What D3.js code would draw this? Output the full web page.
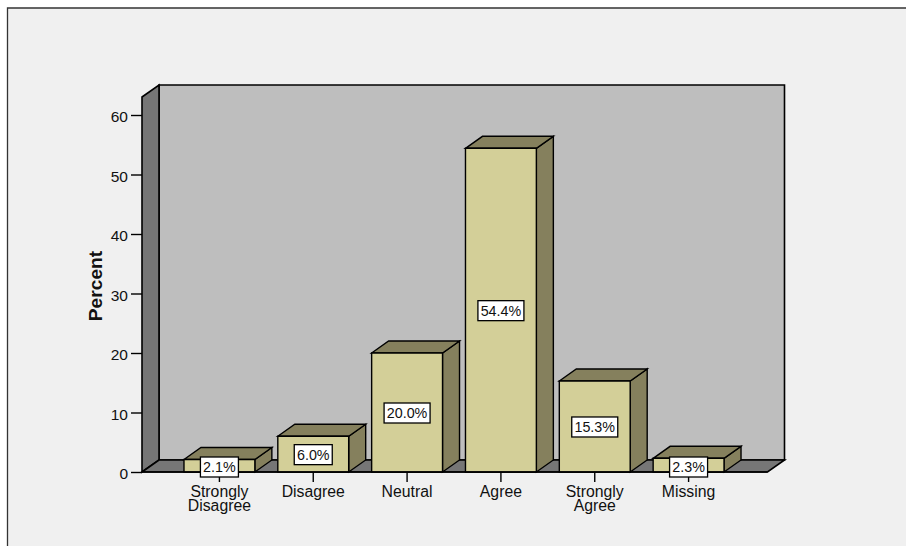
<!DOCTYPE html>
<html><head><meta charset="utf-8">
<script src="https://cdn.jsdelivr.net/npm/d3@7"></script>
<style>html,body{margin:0;padding:0;background:#fff}svg{display:block}text{font-family:"Liberation Sans",Arial,sans-serif;fill:#111}</style>
</head><body><svg id="c" width="906" height="546"></svg>
<script>
const categories=[["Strongly","Disagree"],["Disagree"],["Neutral"],["Agree"],["Strongly","Agree"],["Missing"]];
const values=[2.1,6.0,20.0,54.4,15.3,2.3];
const labels=["2.1%","6.0%","20.0%","54.4%","15.3%","2.3%"];
const yTicks=[0,10,20,30,40,50,60];
const svg=d3.select("#c");
const y=d3.scaleLinear().domain([0,60]).range([472,115]);
const x=d3.scaleBand().domain(d3.range(categories.length)).range([173,735]).paddingInner(23/94).paddingOuter(11/94);
const dx=17,dy=12,L=142,R=767.5,T=97;
const poly=(pts,fill,sw=1.6)=>svg.append("path").attr("d","M"+pts.map(p=>p.join(",")).join("L")+"Z").attr("fill",fill).attr("stroke","#000").attr("stroke-width",sw).attr("stroke-linejoin","miter");
svg.append("rect").attr("x",7.5).attr("y",8).attr("width",898.5).attr("height",538).attr("fill","#f0f0f0");
svg.append("path").attr("d","M7.5,546V8H906").attr("fill","none").attr("stroke","#333").attr("stroke-width",1.3);
poly([[L+dx,T-dy],[R+dx,T-dy],[R+dx,472-dy],[L+dx,472-dy]],"#bebebe");
poly([[L,T],[L+dx,T-dy],[L+dx,472-dy],[L,472]],"#767676");
poly([[L,472],[L+dx,472-dy],[R+dx,472-dy],[R,472]],"#767676");
const yAxis=svg.append("g").attr("transform",`translate(${L},0)`).call(d3.axisLeft(y).tickValues(yTicks).tickSize(11).tickPadding(3));
yAxis.select(".domain").remove();
yAxis.selectAll("line").attr("stroke","#000").attr("stroke-width",1.4);
yAxis.selectAll("text").attr("font-size",15.5).attr("dy","0.42em").attr("fill","#111").style("font-family",'"Liberation Sans",Arial,sans-serif');
values.forEach((v,i)=>{
 const x0=x(i),x1=x0+x.bandwidth(),yt=y(v),yb=y(0);
 poly([[x1,yt],[x1+dx,yt-dy],[x1+dx,yb-dy],[x1,yb]],"#85805d",1.4);
 poly([[x0,yt],[x0+dx,yt-dy],[x1+dx,yt-dy],[x1,yt]],"#85805d",1.4);
 poly([[x0,yt],[x1,yt],[x1,yb],[x0,yb]],"#d3cf98",1.4);
});
svg.append("line").attr("x1",L).attr("x2",R).attr("y1",472).attr("y2",472).attr("stroke","#000").attr("stroke-width",1.6);
const xc=i=>x(i)+x.bandwidth()/2;
categories.forEach((c,i)=>{
 svg.append("line").attr("x1",xc(i)).attr("x2",xc(i)).attr("y1",472).attr("y2",482).attr("stroke","#000").attr("stroke-width",1.4);
 const t=svg.append("text").attr("text-anchor","middle").attr("font-size",15.8);
 c.forEach((s,j)=>t.append("tspan").attr("x",xc(i)).attr("y",497+j*14).text(s));
});
values.forEach((v,i)=>{
 const cy=(y(v)+y(0))/2+0.5, yc=v<5?467:cy, w=labels[i].length>4?46:38;
 svg.append("rect").attr("x",xc(i)-w/2).attr("y",yc-10).attr("width",w).attr("height",20).attr("fill","#fff").attr("stroke","#000").attr("stroke-width",1.3);
 svg.append("text").attr("x",xc(i)).attr("y",yc+5).attr("text-anchor","middle").attr("font-size",14.3).text(labels[i]);
});
svg.append("text").attr("transform","translate(102,286) rotate(-90)").attr("text-anchor","middle").attr("font-size",19.2).attr("font-weight","bold").text("Percent");
</script></body></html>
